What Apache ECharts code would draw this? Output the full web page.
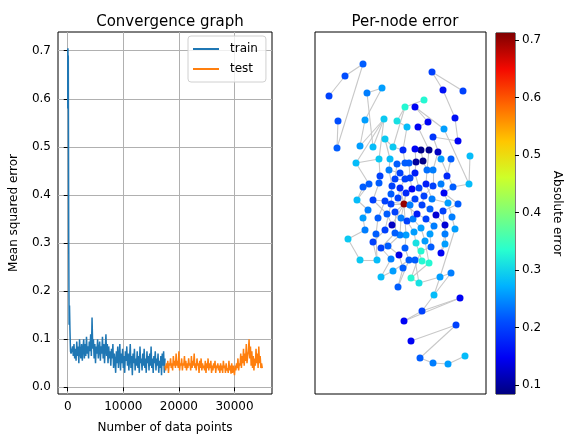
<!DOCTYPE html>
<html>
<head>
<meta charset="utf-8">
<script src="https://cdn.jsdelivr.net/npm/echarts@6/dist/echarts.min.js"></script>
<style>
  html, body { margin: 0; padding: 0; background: #fff; }
  #chart { width: 564px; height: 434px; }
</style>
</head>
<body>
<div id="chart"></div>
<script>
// --- convergence graph data ---
const headX = [0, 10, 40, 80, 100, 180, 250, 320, 400, 500, 600];
const headY = [0.58, 0.70, 0.705, 0.59, 0.69, 0.30, 0.13, 0.17, 0.12, 0.075, 0.07];
const trainStart = 750, trainStep = 125;
const trainY = [
  0.07, 0.085, 0.065, 0.09, 0.06, 0.08, 0.055, 0.095,
  0.065, 0.085, 0.05, 0.1, 0.07, 0.06, 0.09, 0.055,
  0.08, 0.1, 0.06, 0.09, 0.065, 0.105, 0.07, 0.085,
  0.06, 0.095, 0.075, 0.11, 0.065, 0.145, 0.08, 0.1,
  0.06, 0.09, 0.05, 0.085, 0.07, 0.1, 0.06, 0.08,
  0.095, 0.055, 0.085, 0.07, 0.105, 0.06, 0.09, 0.05,
  0.08, 0.11, 0.065, 0.09, 0.05, 0.085, 0.06, 0.075,
  0.045, 0.08, 0.06, 0.09, 0.04, 0.07, 0.055, 0.03,
  0.075, 0.05, 0.085, 0.04, 0.065, 0.09, 0.035, 0.07,
  0.05, 0.08, 0.04, 0.065, 0.03, 0.075, 0.055, 0.085,
  0.045, 0.07, 0.035, 0.06, 0.09, 0.04, 0.065, 0.025,
  0.07, 0.05, 0.08, 0.035, 0.06, 0.045, 0.075, 0.04,
  0.065, 0.03, 0.085, 0.05, 0.06, 0.035, 0.07, 0.045,
  0.08, 0.04, 0.06, 0.03, 0.075, 0.05, 0.065, 0.035,
  0.07, 0.045, 0.085, 0.04, 0.06, 0.03, 0.065, 0.05,
  0.075, 0.035, 0.06, 0.045, 0.07, 0.03, 0.055, 0.04,
  0.065, 0.025, 0.07, 0.045, 0.075, 0.03, 0.06
];
const testStart = 17500, testStep = 125;
const testY = [
  0.045, 0.035, 0.05, 0.04, 0.055, 0.03, 0.05, 0.045,
  0.06, 0.04, 0.05, 0.035, 0.065, 0.045, 0.055, 0.04,
  0.07, 0.045, 0.055, 0.04, 0.075, 0.035, 0.05, 0.045,
  0.06, 0.035, 0.05, 0.045, 0.065, 0.04, 0.055, 0.035,
  0.05, 0.04, 0.06, 0.045, 0.05, 0.035, 0.065, 0.04,
  0.055, 0.045, 0.07, 0.04, 0.05, 0.035, 0.06, 0.045,
  0.05, 0.03, 0.055, 0.04, 0.06, 0.035, 0.05, 0.04,
  0.045, 0.035, 0.055, 0.03, 0.05, 0.04, 0.06, 0.035,
  0.05, 0.04, 0.055, 0.03, 0.045, 0.035, 0.05, 0.04,
  0.055, 0.03, 0.045, 0.04, 0.05, 0.035, 0.045, 0.03,
  0.05, 0.035, 0.045, 0.03, 0.055, 0.04, 0.045, 0.03,
  0.05, 0.035, 0.04, 0.03, 0.055, 0.035, 0.045, 0.028,
  0.05, 0.03, 0.045, 0.035, 0.025, 0.045, 0.035, 0.05,
  0.04, 0.06, 0.035, 0.05, 0.045, 0.07, 0.04, 0.065,
  0.05, 0.08, 0.045, 0.07, 0.055, 0.09, 0.05, 0.065,
  0.075, 0.1, 0.06, 0.085, 0.045, 0.075, 0.04, 0.065,
  0.035, 0.06, 0.045, 0.08, 0.05, 0.07, 0.04, 0.085,
  0.05, 0.065, 0.04, 0.05, 0.04
];
const xTicks = [0, 10000, 20000, 30000];
const yTicks = [0, 0.1, 0.2, 0.3, 0.4, 0.5, 0.6, 0.7];

// --- per-node error data (layout coordinates + absolute error) ---
const nodeX = [48,30,14,23,22,52,67,50,45,69,58,70,41,64,78,75,90,109,82,92,
  100,113,103,117,128,148,140,129,118,143,155,154,136,126,123,114,106,100,88,108,
  101,90,94,82,112,118,132,138,65,74,80,100,95,90,64,54,48,77,85,97,
  104,111,118,126,129,91,76,109,117,42,58,70,89,83,100,76,95,107,133,143,
  85,53,48,63,72,80,86,92,98,102,111,115,121,128,137,130,119,106,99,91,
  85,80,77,70,61,50,33,58,66,73,90,101,110,115,116,130,130,140,126,106,
  84,94,100,107,114,76,62,45,78,88,66,96,104,125,136,83,119,145,107,89,
  141,96,105,118,133,150];
const nodeY = [330,318,298,273,246,301,306,274,248,275,247,255,231,235,247,235,287,294,273,267,
  287,272,267,322,304,303,276,265,257,253,238,210,235,235,242,244,244,245,244,233,
  232,231,231,230,224,224,218,207,218,224,215,221,216,215,211,210,207,208,206,205,
  206,210,208,210,201,201,200,198,195,194,194,193,190,196,195,190,189,189,191,190,
  221,184,176,176,180,182,176,173,175,180,175,185,179,183,177,169,168,166,162,159,
  159,161,169,164,160,164,155,152,146,148,146,151,153,160,147,160,150,165,141,143,
  139,134,134,133,131,135,134,134,123,126,117,116,111,117,121,107,99,96,83,73,
  69,53,36,31,30,38];
const nodeErr = [0.22,0.21,0.2,0.21,0.22,0.24,0.26,0.26,0.26,0.29,0.28,0.29,0.28,0.29,0.29,0.28,0.33,0.33,0.31,0.28,
  0.15,0.15,0.15,0.2,0.16,0.2,0.16,0.26,0.19,0.15,0.28,0.28,0.22,0.26,0.12,0.09,0.09,0.15,0.18,0.09,
  0.1,0.22,0.22,0.22,0.23,0.24,0.18,0.22,0.2,0.24,0.2,0.17,0.2,0.2,0.22,0.22,0.22,0.2,0.18,0.15,
  0.2,0.17,0.2,0.24,0.15,0.18,0.22,0.2,0.24,0.28,0.2,0.2,0.7,0.2,0.2,0.2,0.24,0.2,0.26,0.22,
  0.2,0.24,0.26,0.22,0.22,0.2,0.24,0.2,0.24,0.17,0.2,0.22,0.13,0.2,0.24,0.13,0.24,0.26,0.26,0.26,
  0.24,0.22,0.12,0.2,0.22,0.24,0.29,0.2,0.2,0.22,0.22,0.31,0.26,0.26,0.22,0.24,0.26,0.26,0.15,0.33,
  0.14,0.22,0.22,0.33,0.33,0.24,0.28,0.29,0.26,0.22,0.28,0.33,0.31,0.26,0.24,0.22,0.28,0.15,0.2,0.15,
  0.2,0.15,0.22,0.24,0.26,0.28];
const edges = [
  [0,1],[1,2],[0,4],[3,4],[5,6],[6,7],[7,8],[5,10],[9,8],[9,10],[9,12],[9,13],[11,14],[11,15],
  [12,13],[14,16],[16,17],[16,18],[18,19],[19,38],[20,21],[20,27],[21,22],[22,35],[23,24],[23,25],
  [24,26],[26,29],[27,31],[30,31],[28,33],[28,29],[13,48],[15,49],[12,55],[14,38],[38,41],[41,43],
  [37,40],[36,39],[35,44],[34,45],[32,46],[33,47],[43,50],[42,52],[40,51],[39,44],[44,61],[45,62],
  [46,63],[47,64],[48,54],[49,57],[50,53],[51,60],[52,59],[53,58],[54,70],[55,69],[56,69],[57,66],
  [58,73],[59,65],[60,67],[61,68],[62,67],[63,78],[64,79],[65,72],[66,75],[67,77],[68,78],[70,71],
  [71,72],[73,72],[74,72],[75,72],[76,72],[77,74],[72,85],[72,86],[72,89],[72,99],[72,102],[72,58],
  [72,65],[80,52],[80,49],[69,81],[70,84],[71,83],[75,103],[76,88],[77,91],[78,94],[79,93],[81,82],
  [82,105],[83,104],[84,102],[85,101],[86,100],[87,98],[88,97],[89,90],[90,96],[91,92],[92,95],
  [93,115],[94,117],[95,116],[96,113],[97,112],[98,111],[99,110],[100,109],[101,108],[103,107],
  [104,126],[105,106],[106,127],[107,126],[108,125],[109,120],[110,121],[111,123],[112,124],
  [113,114],[114,119],[115,118],[116,118],[117,133],[119,131],[120,129],[121,128],[122,132],
  [125,130],[127,126],[128,130],[129,135],[131,132],[132,133],[133,134],[131,124],[134,136],
  [133,136],[136,138],[137,139],[138,139],[137,138],[135,121],[140,141],[140,142],[142,143],
  [143,144],[144,145],[31,47]
];
const errMin = 0.0844, errMax = 0.712;
const cbTicks = [0.1, 0.2, 0.3, 0.4, 0.5, 0.6, 0.7];
const jet = ['#000080', '#0000f4', '#004dff', '#00b3ff', '#29ffce', '#7dff7a',
  '#ceff29', '#ffc600', '#ff6800', '#f40900', '#800000'];

const chart = echarts.init(document.getElementById('chart'));

const trainData = headX.map((x, i) => [x, headY[i]])
  .concat(trainY.map((y, i) => [trainStart + i * trainStep, y]));
const testData = testY.map((y, i) => [testStart + i * testStep, y]);
const nodeData = nodeX.map((x, i) => [x, nodeY[i], nodeErr[i]]);

const tickFont = { color: '#000', fontSize: 12, fontFamily: 'DejaVu Sans' };
const gridLine = { show: true, lineStyle: { color: '#b0b0b0', width: 1 } };

const option = {
  animation: false,
  textStyle: { fontFamily: 'DejaVu Sans' },
  title: [
    { text: 'Convergence graph', left: 165, top: 10, textAlign: 'center',
      textStyle: { fontSize: 15, fontWeight: 'normal', color: '#000', fontFamily: 'DejaVu Sans' } },
    { text: 'Per-node error', left: 400, top: 10, textAlign: 'center',
      textStyle: { fontSize: 15, fontWeight: 'normal', color: '#000', fontFamily: 'DejaVu Sans' } }
  ],
  legend: {
    data: ['train', 'test'],
    orient: 'vertical',
    left: 188, top: 36,
    padding: [6, 8, 6, 5],
    itemGap: 6,
    itemWidth: 26,
    itemHeight: 2,
    icon: 'rect',
    backgroundColor: 'rgba(255,255,255,0.8)',
    borderColor: '#d0d0d0',
    borderWidth: 1,
    borderRadius: 3,
    textStyle: { fontSize: 12, color: '#000', fontFamily: 'DejaVu Sans', padding: [0, 0, 0, 6],
      lineHeight: 14 }
  },
  grid: [
    { left: 58, top: 32, width: 214, height: 362, show: true, borderColor: '#000', borderWidth: 1,
      outerBoundsMode: 'none' },
    { left: 315, top: 32, width: 171, height: 362, show: true, borderColor: '#000', borderWidth: 1,
      outerBoundsMode: 'none' },
    { left: 496, top: 33, width: 19, height: 361, show: true, borderColor: '#000', borderWidth: 1,
      outerBoundsMode: 'none' }
  ],
  xAxis: [
    { gridIndex: 0, type: 'value', min: -1750, max: 36750,
      axisLine: { show: false },
      axisTick: { show: true, length: 4, customValues: xTicks, lineStyle: { color: '#000' } },
      axisLabel: { margin: 7, customValues: xTicks, formatter: v => String(v), ...tickFont },
      splitLine: gridLine,
      name: 'Number of data points', nameLocation: 'middle', nameGap: 28,
      nameTextStyle: { fontSize: 12, color: '#000', fontFamily: 'DejaVu Sans' } },
    { gridIndex: 1, type: 'value', min: 0, max: 171, show: false },
    { gridIndex: 2, type: 'category', data: ['cb'], show: false, boundaryGap: true }
  ],
  yAxis: [
    { gridIndex: 0, type: 'value', min: -0.014, max: 0.739,
      axisLine: { show: false },
      axisTick: { show: true, length: 4, customValues: yTicks, lineStyle: { color: '#000' } },
      axisLabel: { margin: 7, customValues: yTicks, formatter: v => v.toFixed(1), ...tickFont },
      splitLine: gridLine,
      name: 'Mean squared error', nameLocation: 'middle', nameGap: 38, nameRotate: 90,
      nameTextStyle: { fontSize: 12, color: '#000', fontFamily: 'DejaVu Sans' } },
    { gridIndex: 1, type: 'value', min: 0, max: 362, show: false },
    { gridIndex: 2, type: 'value', position: 'right', min: errMin, max: errMax,
      axisLine: { show: false },
      axisTick: { show: true, length: 4, customValues: cbTicks, lineStyle: { color: '#000' } },
      axisLabel: { margin: 7, customValues: cbTicks, formatter: v => v.toFixed(1), ...tickFont },
      splitLine: { show: false },
      name: 'Absolute error', nameLocation: 'middle', nameGap: 36, nameRotate: -90,
      nameTextStyle: { fontSize: 12, color: '#000', fontFamily: 'DejaVu Sans' } }
  ],
  visualMap: {
    show: false, type: 'continuous', seriesIndex: 3, dimension: 2,
    min: errMin, max: errMax, inRange: { color: jet }
  },
  series: [
    { name: 'train', type: 'line', xAxisIndex: 0, yAxisIndex: 0, data: trainData,
      showSymbol: false, symbol: 'none', color: '#1f77b4', lineStyle: { width: 1.5, color: '#1f77b4' } },
    { name: 'test', type: 'line', xAxisIndex: 0, yAxisIndex: 0, data: testData,
      showSymbol: false, symbol: 'none', color: '#ff7f0e', lineStyle: { width: 1.5, color: '#ff7f0e' } },
    { type: 'graph', coordinateSystem: 'cartesian2d', xAxisIndex: 1, yAxisIndex: 1,
      silent: true, symbolSize: 0, data: nodeData.map(d => [d[0], d[1]]),
      links: edges.map(e => ({ source: e[0], target: e[1] })),
      lineStyle: { color: '#c8c8c8', width: 1.1, opacity: 1 } },
    { type: 'scatter', xAxisIndex: 1, yAxisIndex: 1, data: nodeData,
      symbolSize: 7, itemStyle: { opacity: 1 } },
    { type: 'bar', xAxisIndex: 2, yAxisIndex: 2, data: [errMax], barWidth: '100%', silent: true,
      itemStyle: { color: new echarts.graphic.LinearGradient(0, 1, 0, 0,
        jet.map((c, i) => ({ offset: i / (jet.length - 1), color: c }))) } }
  ]
};

chart.setOption(option);
</script>
</body>
</html>
